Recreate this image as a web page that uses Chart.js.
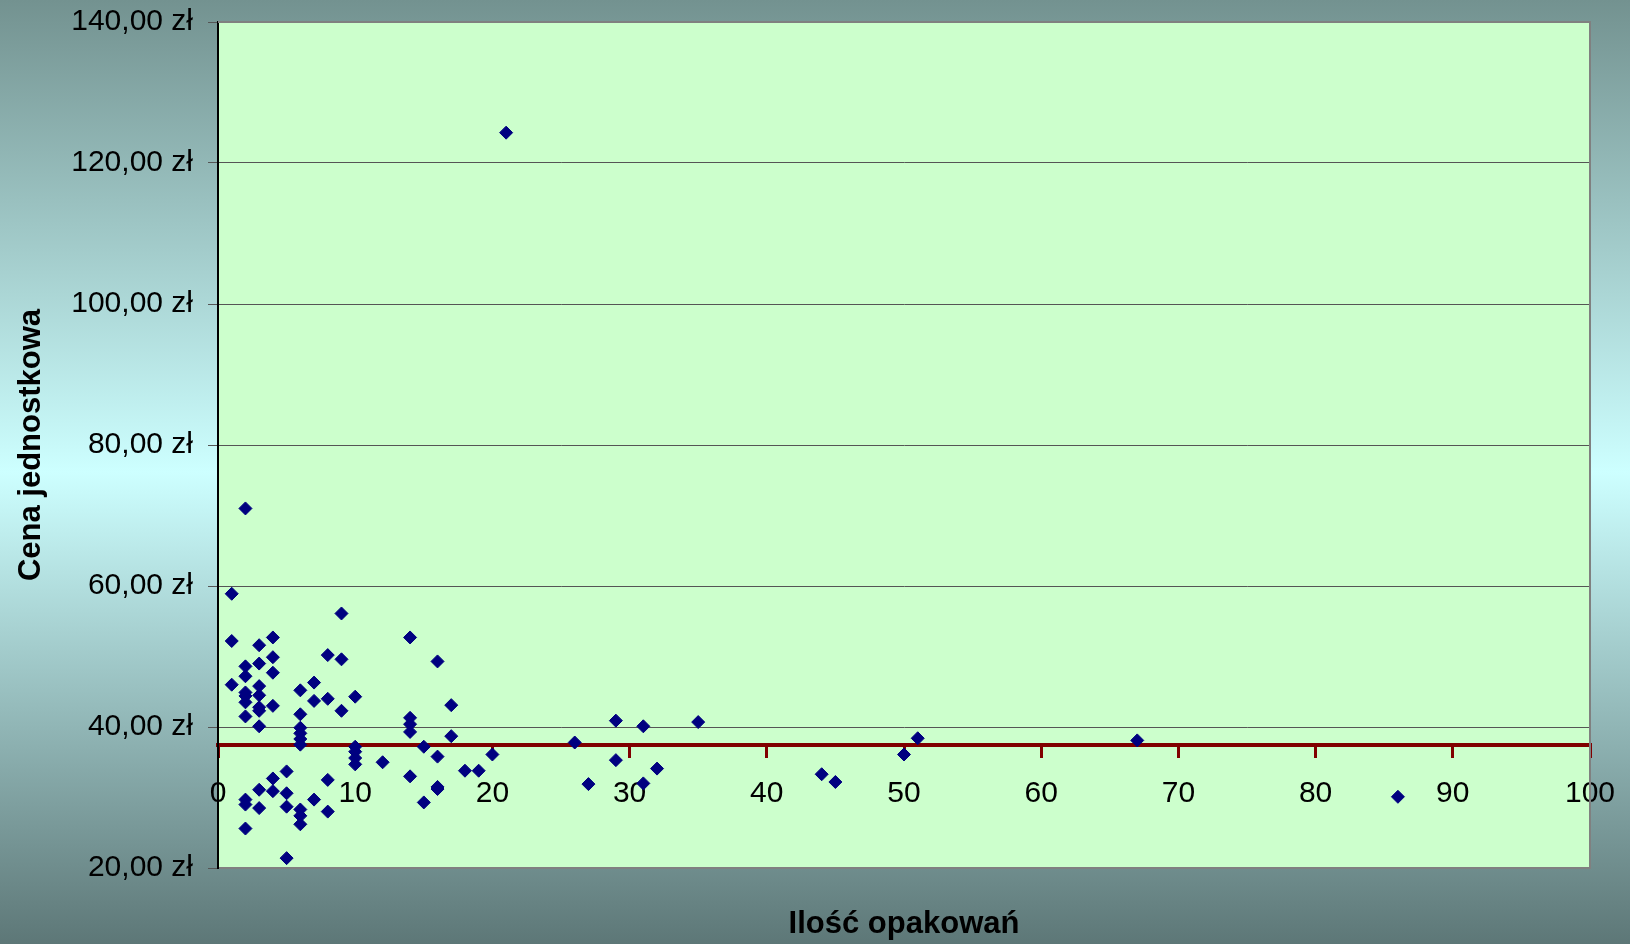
<!DOCTYPE html>
<html lang="pl">
<head>
<meta charset="utf-8">
<title>Cena jednostkowa a ilość opakowań</title>
<script src="https://cdn.jsdelivr.net/npm/chart.js@4/dist/chart.umd.min.js"></script>
<style>
  html, body { margin:0; padding:0; }
  body { width:1630px; height:944px; overflow:hidden;
         background: linear-gradient(180deg, #739290 0%, #cdffff 50%, #5d7777 100%); }
  #wrap { position:relative; width:1630px; height:944px; }
</style>
</head>
<body>
<div id="wrap"><canvas id="chart"></canvas></div>
<script>
// Dane: ilość opakowań (x) i cena jednostkowa w zł (y), w tej samej kolejności
const ilosc = [
  1,1,1,
  2,2,2,2,2,2,2,2,2,2,
  3,3,3,3,3,3,3,3,3,
  4,4,4,4,4,4,
  5,5,5,5,
  6,6,6,6,6,6,6,6,6,
  7,7,7,
  8,8,8,8,
  9,9,9,
  10,10,10,10,10,
  12,
  14,14,14,14,14,
  15,15,
  16,16,16,16,
  17,17,
  18,19,20,21,26,27,29,29,31,31,32,35,44,45,50,51,67,86
];
const cena = [
  58.9,52.2,46.0,
  71.0,48.6,47.2,44.9,44.4,43.5,41.5,29.7,29.0,25.6,
  51.6,49.0,45.8,44.5,42.8,42.3,40.1,31.1,28.5,
  52.7,49.9,47.7,43.0,32.7,30.9,
  33.7,30.6,28.7,21.4,
  45.2,41.8,39.9,39.1,38.3,37.5,28.3,27.4,26.2,
  46.3,43.7,29.7,
  50.2,44.0,32.5,28.0,
  56.1,49.6,42.3,
  44.3,37.2,36.5,35.6,34.7,
  35.0,
  52.7,41.3,40.4,39.3,33.0,
  37.2,29.3,
  49.3,35.8,31.5,31.2,
  43.1,38.7,
  33.8,33.8,36.1,124.3,37.8,31.9,40.9,35.3,40.1,32.0,34.1,40.7,33.3,32.2,36.1,38.4,38.1,30.1
];
// oś X przecina oś Y na poziomie średniej ceny
const przeciecieX = 37.5;
const zakresX = [0, 100], krokX = 10;
const zakresY = [20, 140], krokY = 20;

const punkty = ilosc.map((x,i)=>({ x, y: cena[i] }));
const fmtZl = v => v.toFixed(2).replace('.', ',') + ' zł';
const FONT = "'Liberation Sans', Arial, sans-serif";

// tło obszaru wykresu + ramka
const plotBg = {
  id:'plotBg',
  beforeDraw(chart){
    const {ctx, chartArea:a} = chart;
    ctx.save();
    ctx.fillStyle = '#ccffcc';
    ctx.fillRect(a.left, a.top, a.right-a.left, a.bottom-a.top);
    ctx.restore();
  },
  afterDraw(chart){
    const {ctx, chartArea:a} = chart;
    ctx.save();
    ctx.strokeStyle = '#808080';
    ctx.lineWidth = 2;
    ctx.beginPath();
    ctx.moveTo(a.left, a.top); ctx.lineTo(a.right, a.top);
    ctx.lineTo(a.right, a.bottom); ctx.lineTo(a.left+1, a.bottom);
    ctx.stroke();
    ctx.restore();
  }
};

new Chart(document.getElementById('chart'), {
  type:'scatter',
  data:{ datasets:[{
    data: punkty,
    pointStyle:'rectRot',
    pointRadius:6.5,
    pointHoverRadius:6.5,
    pointBackgroundColor:'#000080',
    pointBorderColor:'#000080',
    pointBorderWidth:1
  }]},
  options:{
    responsive:true, maintainAspectRatio:false, animation:false,
    layout:{ padding:{ left:0, top:22, right:40, bottom:0 } },
    plugins:{ legend:{display:false}, tooltip:{enabled:false} },
    scales:{
      x:{
        type:'linear', position:{ y: przeciecieX },
        min:zakresX[0], max:zakresX[1],
        ticks:{ stepSize:krokX, color:'#000', padding:20, font:{ family:FONT, size:30 } },
        grid:{ drawOnChartArea:false, drawTicks:true, tickLength:11, color:'#800000', lineWidth:3 },
        border:{ color:'#800000', width:4 },
        afterFit(s){ s.paddingLeft = 0; s.paddingRight = 0; }
      },
      xt:{
        type:'linear', axis:'x', position:'bottom', min:0, max:1,
        ticks:{ display:false }, grid:{ display:false }, border:{ display:false },
        title:{ display:true, text:'Ilość opakowań', color:'#000',
                font:{ family:FONT, size:31, weight:'bold' }, padding:{ top:0, bottom:1 } },
        afterFit(s){ s.height = 76; s.paddingLeft = 0; s.paddingRight = 0; }
      },
      y:{
        type:'linear', position:'left',
        min:zakresY[0], max:zakresY[1],
        ticks:{ stepSize:krokY, color:'#000', padding:15, callback: v => fmtZl(v),
                font:{ family:FONT, size:30 } },
        grid:{ color:'#555', lineWidth:1, tickLength:10 },
        border:{ color:'#000', width:2 },
        title:{ display:true, text:'Cena jednostkowa', color:'#000',
                font:{ family:FONT, size:31, weight:'bold' }, padding:{ top:13, bottom:0 } },
        afterFit(s){ s.width = 218; s.paddingTop = 0; s.paddingBottom = 0; }
      }
    }
  },
  plugins:[plotBg]
});
</script>
</body>
</html>
